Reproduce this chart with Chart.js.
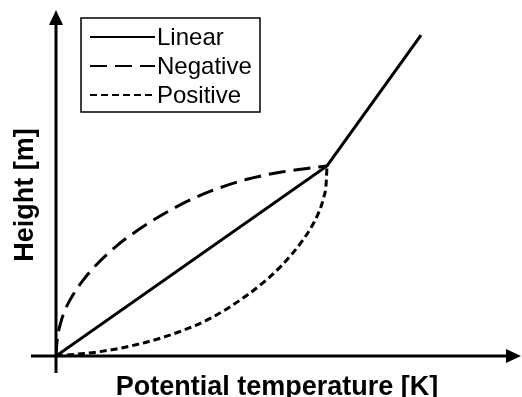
<!DOCTYPE html>
<html>
<head>
<meta charset="utf-8">
<script src="https://cdn.jsdelivr.net/npm/chart.js@4/dist/chart.umd.min.js"></script>
<style>
  html, body { margin: 0; padding: 0; background: #fff; }
  #wrap { width: 522px; height: 397px; position: relative; }
</style>
</head>
<body>
<div id="wrap"><canvas id="profileChart"></canvas></div>
<script>
// potential temperature (x) and height (y), scaled so the kink sits at (1, 1)
const linearT = [0, 1, 1.347];
const linearZ = [0, 1, 1.689];

const negativeT = [0, 0.004, 0.015, 0.035, 0.064, 0.101, 0.150, 0.224, 0.300, 0.400, 0.500, 0.600, 0.705, 0.827, 1];
const negativeZ = [0, 0.080, 0.163, 0.247, 0.325, 0.401, 0.482, 0.580, 0.660, 0.750, 0.825, 0.883, 0.930, 0.967, 1];

const positiveT = [0, 0.162, 0.321, 0.450, 0.579, 0.705, 0.776, 0.827, 0.870, 0.911, 0.945, 0.970, 0.987, 0.997, 1];
const positiveZ = [0, 0.023, 0.068, 0.125, 0.205, 0.320, 0.400, 0.468, 0.535, 0.610, 0.685, 0.757, 0.830, 0.910, 1];

const seriesNames = ['Linear', 'Negative', 'Positive'];
const axisTitles = { x: 'Potential temperature [K]', y: 'Height [m]' };

function toPoints(xs, ys) {
    return xs.map((x, i) => ({ x: x, y: ys[i] }));
}

// arrowed axes through the origin
const arrowAxes = {
    id: 'arrowAxes',
    beforeDatasetsDraw(chart) {
        const ctx = chart.ctx;
        const xs = chart.scales.x, ys = chart.scales.y;
        const ox = xs.getPixelForValue(0), oy = ys.getPixelForValue(0);
        const right = chart.chartArea.right, top = chart.chartArea.top;
        ctx.save();
        ctx.strokeStyle = '#000';
        ctx.fillStyle = '#000';
        ctx.lineWidth = 3;
        ctx.beginPath();
        ctx.moveTo(ox - 25, oy);
        ctx.lineTo(right - 14, oy);
        ctx.moveTo(ox, oy + 17);
        ctx.lineTo(ox, top + 14);
        ctx.stroke();
        ctx.beginPath();
        ctx.moveTo(right, oy);
        ctx.lineTo(right - 15, oy - 7);
        ctx.lineTo(right - 15, oy + 7);
        ctx.closePath();
        ctx.fill();
        ctx.beginPath();
        ctx.moveTo(ox, top);
        ctx.lineTo(ox - 7, top + 15);
        ctx.lineTo(ox + 7, top + 15);
        ctx.closePath();
        ctx.fill();

        ctx.font = 'bold 27px "Liberation Sans", Arial, sans-serif';
        ctx.textAlign = 'center';
        ctx.textBaseline = 'alphabetic';
        ctx.fillText(axisTitles.x, 277, 395);
        ctx.translate(33, 195);
        ctx.rotate(-Math.PI / 2);
        ctx.fillText(axisTitles.y, 0, 0);
        ctx.restore();
    }
};

// boxed legend in the top left corner
const boxLegend = {
    id: 'boxLegend',
    afterDatasetsDraw(chart) {
        const ctx = chart.ctx;
        ctx.save();
        ctx.fillStyle = '#fff';
        ctx.fillRect(81, 18, 179, 94);
        ctx.strokeStyle = '#000';
        ctx.lineWidth = 1.5;
        ctx.strokeRect(81, 18, 179, 94);
        ctx.font = '24px "Liberation Sans", Arial, sans-serif';
        ctx.textBaseline = 'middle';
        ctx.textAlign = 'left';
        const rows = [37, 66, 95];
        chart.data.datasets.forEach((ds, i) => {
            const y = rows[i];
            ctx.lineWidth = 2;
            ctx.setLineDash(ds.borderDash || []);
            ctx.beginPath();
            ctx.moveTo(90, y);
            ctx.lineTo(155, y);
            ctx.stroke();
            ctx.setLineDash([]);
            ctx.fillStyle = '#000';
            ctx.fillText(ds.label, 157, y + 1);
        });
        ctx.restore();
    }
};

const ctx = document.getElementById('profileChart').getContext('2d');

new Chart(ctx, {
    type: 'line',
    data: {
        datasets: [{
            label: seriesNames[0],
            data: toPoints(linearT, linearZ),
            borderColor: '#000',
            borderWidth: 3,
            tension: 0
        }, {
            label: seriesNames[1],
            data: toPoints(negativeT, negativeZ),
            borderColor: '#000',
            borderWidth: 3,
            borderDash: [17, 8],
            cubicInterpolationMode: 'monotone'
        }, {
            label: seriesNames[2],
            data: toPoints(positiveT, positiveZ),
            borderColor: '#000',
            borderWidth: 3,
            borderDash: [7, 4],
            cubicInterpolationMode: 'monotone'
        }]
    },
    options: {
        responsive: true,
        maintainAspectRatio: false,
        animation: false,
        layout: { padding: { left: 56, right: 1, top: 10, bottom: 41 } },
        elements: { point: { radius: 0 } },
        plugins: {
            legend: { display: false },
            tooltip: { enabled: false }
        },
        scales: {
            x: { type: 'linear', display: false, min: 0, max: 1.716 },
            y: { type: 'linear', display: false, min: 0, max: 1.821 }
        }
    },
    plugins: [arrowAxes, boxLegend]
});
</script>
</body>
</html>
